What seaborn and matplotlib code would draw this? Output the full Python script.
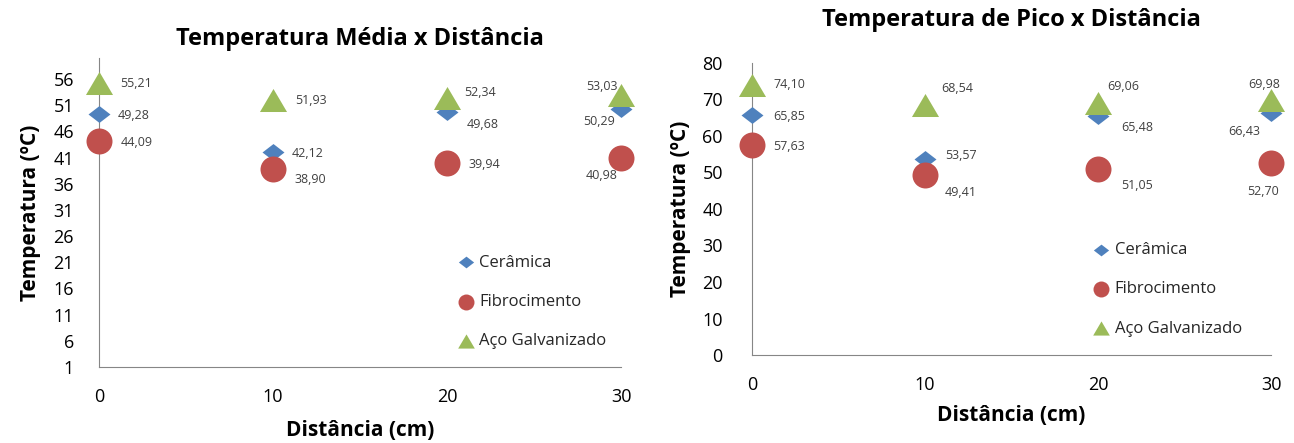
import numpy as np
import pandas as pd
import matplotlib
matplotlib.use("Agg")
import matplotlib.pyplot as plt
import seaborn as sns

# dados
distancia = [0, 10, 20, 30]
materiais = ["Cerâmica", "Fibrocimento", "Aço Galvanizado"]

media_ceramica = [49.28, 42.12, 49.68, 50.29]
media_fibro = [44.09, 38.90, 39.94, 40.98]
media_aco = [55.21, 51.93, 52.34, 53.03]

pico_ceramica = [65.85, 53.57, 65.48, 66.43]
pico_fibro = [57.63, 49.41, 51.05, 52.70]
pico_aco = [74.10, 68.54, 69.06, 69.98]

ticks_media = [1, 6, 11, 16, 21, 26, 31, 36, 41, 46, 51, 56]
ticks_pico = [0, 10, 20, 30, 40, 50, 60, 70, 80]

cores = {"Cerâmica": "#4F81BD", "Fibrocimento": "#C0504D", "Aço Galvanizado": "#9BBB59"}
# losango e triângulo um pouco achatados, como no Excel esticado
losango = [(-1, 0), (0, 0.77), (1, 0), (0, -0.77), (-1, 0)]
triangulo = [(-1, -0.85), (1, -0.85), (0, 0.85), (-1, -0.85)]
marcadores = {"Cerâmica": losango, "Fibrocimento": "o", "Aço Galvanizado": triangulo}
tamanhos = {"Cerâmica": 250, "Fibrocimento": 350, "Aço Galvanizado": 380}
tam_legenda = {"Cerâmica": 11, "Fibrocimento": 11.5, "Aço Galvanizado": 12}

# deslocamento dos rótulos (pontos) por material e distância
off_media = {
    "Cerâmica": [(25, -1), (25, -1), (26, -9), (-16, -9)],
    "Fibrocimento": [(27, -1), (27, -8), (27, -1), (-14, -13)],
    "Aço Galvanizado": [(27, 0), (27, 0), (24, 4), (-14, 6)],
}
off_pico = {
    "Cerâmica": [(27, -1), (26, 3), (28, -8), (-19, -14)],
    "Fibrocimento": [(27, -1), (26, -13), (28, -12), (-6, -21)],
    "Aço Galvanizado": [(27, 0), (23, 12), (18, 12), (-5, 11)],
}


def monta_df(cer, fib, aco):
    return pd.DataFrame({
        "dist": distancia * 3,
        "temp": cer + fib + aco,
        "material": [materiais[0]] * 4 + [materiais[1]] * 4 + [materiais[2]] * 4,
    })


def fmt(v):
    return f"{v:.2f}".replace(".", ",")


def desenha(ax, df, offsets, ylim, yticks, titulo, pad_tit, pad_y, pad_x, pad_yl, pos_leg):
    for mat in materiais:
        sub = df[df["material"] == mat]
        sns.scatterplot(data=sub, x="dist", y="temp", ax=ax, color=cores[mat],
                        marker=marcadores[mat], s=tamanhos[mat], linewidth=0,
                        label=mat, clip_on=False, zorder=3)
        for (x, y), off in zip(zip(sub["dist"], sub["temp"]), offsets[mat]):
            ax.annotate(fmt(y), (x, y), xytext=off, textcoords="offset points",
                        ha="center", va="center", fontsize=9, color="#404040")
    ax.set_xlim(0, 30)
    ax.set_ylim(*ylim)
    ax.set_xticks(distancia)
    ax.set_yticks(yticks)
    ax.tick_params(axis="x", labelsize=13, length=5, pad=10, color="#868686",
                   labelcolor="black")
    ax.tick_params(axis="y", labelsize=13, length=5, pad=pad_y, color="#868686",
                   labelcolor="black")
    for s in ["top", "right"]:
        ax.spines[s].set_visible(False)
    for s in ["left", "bottom"]:
        ax.spines[s].set_color("#868686")
    ax.set_xlabel("Distância (cm)", fontsize=15, fontweight="bold", labelpad=pad_x,
                  color="black")
    ax.set_ylabel("Temperatura (ºC)", fontsize=15, fontweight="bold", labelpad=pad_yl,
                  color="black")
    ax.set_title(titulo, fontsize=17, fontweight="bold", pad=pad_tit, color="black")
    leg = ax.legend(loc="center left", bbox_to_anchor=pos_leg, frameon=False,
                    fontsize=12, labelspacing=1.4, handletextpad=0.2,
                    handlelength=1.2)
    for h, mat in zip(leg.legend_handles, materiais):
        h.set_sizes([tam_legenda[mat] ** 2])
    return leg


sns.set_style("white")
plt.rcParams["font.family"] = ["Open Sans", "DejaVu Sans"]

fig = plt.figure(figsize=(12.94, 4.43), dpi=100)
ax1 = fig.add_axes([99 / 1294, 1 - 367 / 443, 522 / 1294, 309 / 443])
ax2 = fig.add_axes([752 / 1294, 1 - 355 / 443, 519 / 1294, 292 / 443])

desenha(ax1, monta_df(media_ceramica, media_fibro, media_aco), off_media,
        (1, 60), ticks_media, "Temperatura Média x Distância", 9.5, 13, 10, 9,
        (0.655, 0.21))
desenha(ax2, monta_df(pico_ceramica, pico_fibro, pico_aco), off_pico,
        (0, 80), ticks_pico, "Temperatura de Pico x Distância", 26.5, 16, 8, 8,
        (0.625, 0.225))

fig.savefig("out.png", dpi=100)
